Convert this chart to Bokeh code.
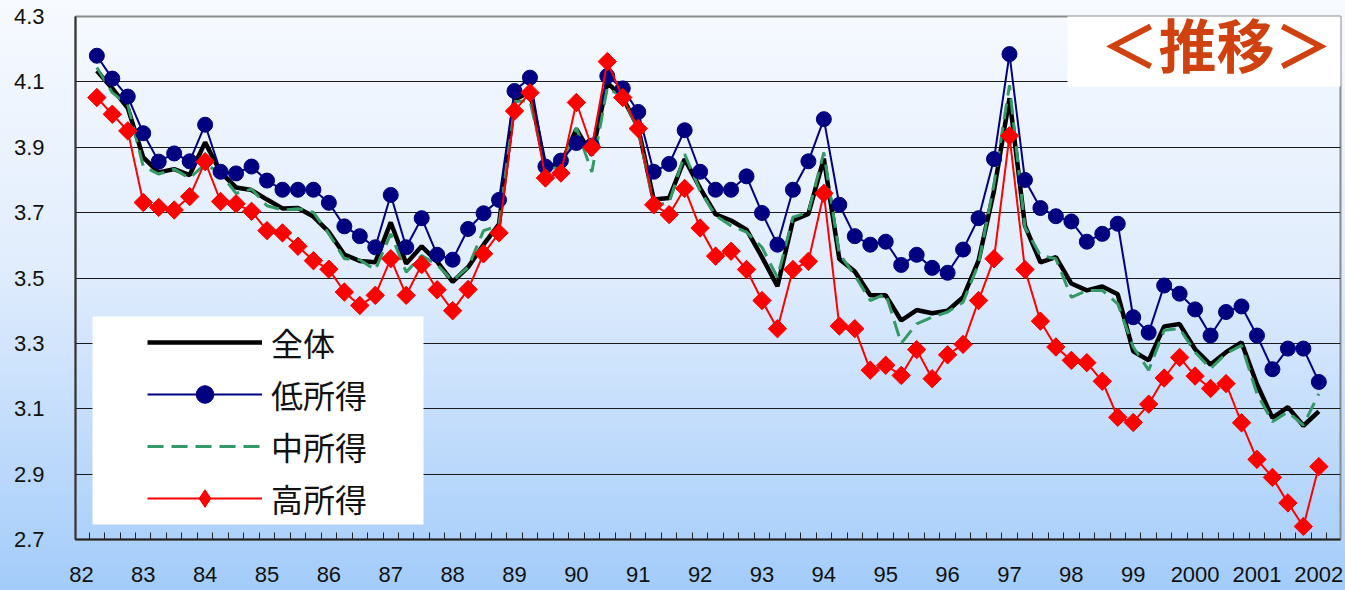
from bokeh.plotting import figure
from bokeh.models import (ColumnDataSource, FixedTicker, Legend, LegendItem,
                          BoxAnnotation, Label, Range1d)
from bokeh.embed import file_html
from bokeh.resources import INLINE

# ---------------- data ----------------
start_year, start_q, n_points = 1982, 2, 80   # 82Q2 ... 02Q1
year_labels = ["82", "83", "84", "85", "86", "87", "88", "89", "90", "91", "92",
               "93", "94", "95", "96", "97", "98", "99", "2000", "2001", "2002"]

total = [4.134, 4.08, 4.02, 3.869, 3.823, 3.833, 3.815, 3.915, 3.823, 3.777,
         3.769, 3.74, 3.713, 3.714, 3.688, 3.641, 3.572, 3.552, 3.548, 3.67,
         3.544, 3.597, 3.55, 3.488, 3.533, 3.602, 3.665, 4.045, 4.07, 3.84,
         3.848, 3.955, 3.876, 4.098, 4.052, 3.96, 3.74, 3.745, 3.864, 3.775,
         3.695, 3.676, 3.648, 3.564, 3.475, 3.676, 3.696, 3.865, 3.558, 3.52,
         3.447, 3.447, 3.37, 3.402, 3.392, 3.40, 3.441, 3.553, 3.767, 4.05,
         3.66, 3.548, 3.564, 3.483, 3.462, 3.474, 3.45, 3.276, 3.248, 3.352,
         3.359, 3.282, 3.235, 3.273, 3.303, 3.175, 3.072, 3.105, 3.048, 3.092]

low = [4.18, 4.11, 4.055, 3.943, 3.856, 3.881, 3.857, 3.969, 3.825, 3.82,
       3.841, 3.798, 3.77, 3.77, 3.77, 3.73, 3.658, 3.628, 3.594, 3.754,
       3.594, 3.683, 3.571, 3.556, 3.65, 3.698, 3.739, 4.072, 4.113, 3.841,
       3.859, 3.913, 3.905, 4.118, 4.08, 4.008, 3.825, 3.849, 3.952, 3.825,
       3.77, 3.77, 3.811, 3.699, 3.602, 3.77, 3.857, 3.986, 3.724, 3.628,
       3.602, 3.611, 3.54, 3.571, 3.531, 3.516, 3.587, 3.683, 3.864, 4.185,
       3.80, 3.714, 3.689, 3.673, 3.611, 3.635, 3.666, 3.38, 3.333, 3.477,
       3.452, 3.404, 3.324, 3.396, 3.413, 3.324, 3.221, 3.284, 3.284, 3.182]

middle = [4.144, 4.067, 4.03, 3.841, 3.818, 3.833, 3.805, 3.849, 3.82, 3.759,
          3.772, 3.721, 3.708, 3.712, 3.701, 3.635, 3.559, 3.556, 3.525, 3.635,
          3.518, 3.569, 3.54, 3.492, 3.533, 3.645, 3.66, 4.04, 4.042, 3.836,
          3.838, 3.96, 3.824, 4.083, 4.052, 3.955, 3.721, 3.731, 3.879, 3.767,
          3.691, 3.66, 3.64, 3.594, 3.502, 3.686, 3.701, 3.884, 3.574, 3.508,
          3.431, 3.452, 3.30, 3.36, 3.38, 3.396, 3.426, 3.543, 3.788, 4.09,
          3.655, 3.569, 3.559, 3.441, 3.462, 3.462, 3.421, 3.289, 3.218, 3.34,
          3.345, 3.273, 3.223, 3.269, 3.294, 3.146, 3.06, 3.09, 3.05, 3.146]

high = [4.052, 4.001, 3.95, 3.731, 3.716, 3.708, 3.749, 3.856, 3.734, 3.727,
        3.704, 3.645, 3.638, 3.597, 3.553, 3.527, 3.457, 3.416, 3.447, 3.559,
        3.447, 3.541, 3.464, 3.40, 3.465, 3.574, 3.638, 4.011, 4.067, 3.806,
        3.821, 4.037, 3.90, 4.162, 4.052, 3.957, 3.724, 3.694, 3.774, 3.653,
        3.567, 3.582, 3.526, 3.431, 3.345, 3.526, 3.551, 3.759, 3.353, 3.345,
        3.218, 3.233, 3.202, 3.281, 3.192, 3.265, 3.297, 3.431, 3.559, 3.935,
        3.526, 3.368, 3.289, 3.248, 3.241, 3.184, 3.074, 3.058, 3.114, 3.194,
        3.257, 3.20, 3.162, 3.177, 3.057, 2.945, 2.89, 2.812, 2.74, 2.923]

series_names = ["全体", "低所得", "中所得", "高所得"]
y_ticks = [2.7, 2.9, 3.1, 3.3, 3.5, 3.7, 3.9, 4.1, 4.3]
title_text = "＜推移＞"

# quarter index: 82Q1 = 0
xq = [(start_q - 1) + i for i in range(n_points)]
src = ColumnDataSource(dict(x=xq, total=total, low=low, middle=middle, high=high))

FONT = "Liberation Sans"
JFONT = "Noto Sans CJK JP"

p = figure(width=1345, height=590, output_backend="svg", toolbar_location=None,
           x_range=Range1d(-0.38, 81.4), y_range=Range1d(2.7, 4.3),
           min_border_left=75, min_border_right=5, min_border_top=16,
           min_border_bottom=51)
p.background_fill_alpha = 0
p.border_fill_alpha = 0
p.styles = {"background-image": "linear-gradient(to bottom, #F7FAFF 0%, #E1EDFD 45%, #A3CCFA 100%)"}
p.outline_line_color = "#8a8a8a"
p.outline_line_width = 2

# axes
label_pos = [4 * k for k in range(len(year_labels))]
p.xaxis.ticker = FixedTicker(ticks=label_pos,
                             minor_ticks=[k + 0.5 for k in range(0, 81)])
p.xaxis.major_label_overrides = {pos: lab for pos, lab in zip(label_pos, year_labels)}
p.xaxis.major_tick_in = 0
p.xaxis.major_tick_out = 0
p.xaxis.minor_tick_in = 7
p.xaxis.minor_tick_out = 0
p.xaxis.minor_tick_line_color = "#222222"
p.xaxis.axis_line_color = "#222222"
p.xaxis.axis_line_width = 2
p.xaxis.major_label_text_font = FONT
p.xaxis.major_label_text_font_size = "22px"
p.xaxis.major_label_text_color = "#111111"
p.xaxis.major_label_standoff = 27

p.yaxis.ticker = FixedTicker(ticks=y_ticks)
p.yaxis.major_label_overrides = {t: f"{t:.1f}" for t in y_ticks}
p.yaxis.major_tick_in = 0
p.yaxis.major_tick_out = 0
p.yaxis.minor_tick_line_color = None
p.yaxis.axis_line_color = "#333333"
p.yaxis.axis_line_width = 2
p.yaxis.major_label_text_font = FONT
p.yaxis.major_label_text_font_size = "22px"
p.yaxis.major_label_text_color = "#111111"
p.yaxis.major_label_standoff = 31

p.xgrid.grid_line_color = None
p.ygrid.grid_line_color = "#1a1a1a"
p.ygrid.grid_line_width = 1

# series
r_total = p.line("x", "total", source=src, line_color="black", line_width=4.5)
r_mid = p.line("x", "middle", source=src, line_color="#339966", line_width=3,
               line_dash="16 8")
r_low_l = p.line("x", "low", source=src, line_color="#000080", line_width=2)
r_low_m = p.scatter("x", "low", source=src, marker="circle", size=15,
                    fill_color="#000080", line_color="#000080")
r_high_l = p.line("x", "high", source=src, line_color="#FF0000", line_width=2)
# diamond glyph (used by the legend; covered by the rotated squares in the plot)
r_high_d = p.scatter("x", "high", source=src, marker="diamond", size=17,
                     fill_color="#FF0000", line_color="#FF0000")
r_high_m = p.scatter("x", "high", source=src, marker="square", size=13,
                     angle=0.785398, fill_color="#FF0000", line_color="#FF0000")

# legend box (white background)
p.add_layout(BoxAnnotation(left=17, right=348, bottom=15, top=223,
                           left_units="screen", right_units="screen",
                           bottom_units="screen", top_units="screen",
                           fill_color="white", fill_alpha=1, line_color=None))

legend = Legend(items=[
    LegendItem(label=series_names[0], renderers=[r_total]),
    LegendItem(label=series_names[1], renderers=[r_low_l, r_low_m]),
    LegendItem(label=series_names[2], renderers=[r_mid]),
    LegendItem(label=series_names[3], renderers=[r_high_l, r_high_d]),
], location=(72, 18), orientation="vertical",
   glyph_width=115, glyph_height=44, label_height=44, spacing=6,
   label_standoff=9, padding=0, margin=0,
   background_fill_alpha=0, border_line_alpha=0,
   label_text_font=JFONT, label_text_font_size="32px",
   label_text_color="#111111")
p.add_layout(legend, "center")

# title box
p.add_layout(BoxAnnotation(left=992, right=1400, bottom=453, top=700,
                           left_units="screen", right_units="screen",
                           bottom_units="screen", top_units="screen",
                           fill_color="white", fill_alpha=1, line_color=None))
p.add_layout(Label(x=1141, y=497, x_units="screen", y_units="screen",
                   text=title_text, text_font=JFONT, text_font_size="58px",
                   text_font_style="bold", text_color="#CF4210",
                   text_align="center", text_baseline="middle"))

open("out.html", "w").write(file_html(p, INLINE))
